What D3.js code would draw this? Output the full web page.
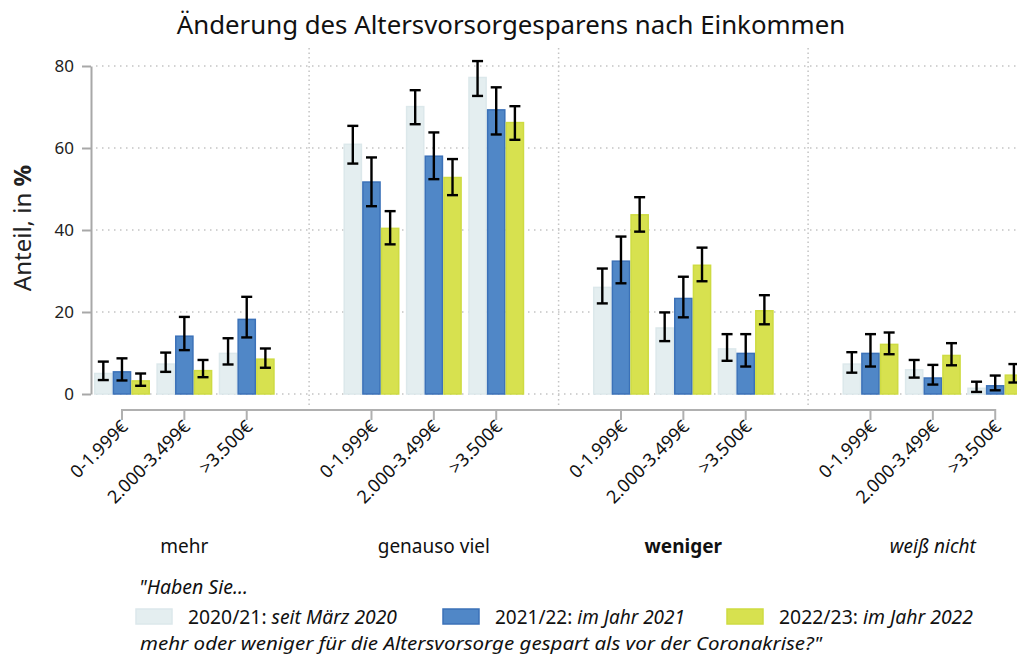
<!DOCTYPE html>
<html>
<head>
  <meta charset="utf-8">
  <title>Änderung des Altersvorsorgesparens nach Einkommen</title>
  <script src="https://d3js.org/d3.v7.min.js"></script>
  <style>
    body { margin: 0; background: #fff; }
    svg { display: block; font-family: "Noto Sans", sans-serif; }
  </style>
</head>
<body>
  <svg id="grafico"></svg>

  <script>
    // Daten
    const antworten = ["mehr", "genauso viel", "weniger", "weiß nicht"];
    const einkommen = ["0-1.999€", "2.000-3.499€", ">3.500€"];
    const wellen = ["2020/21", "2021/22", "2022/23"];
    const legendeJahr = ["2020/21: ", "2021/22: ", "2022/23: "];
    const legendeText = ["seit März 2020", "im Jahr 2021", "im Jahr 2022"];
    const yTicks = [0, 20, 40, 60, 80];

    // Werte je Welle, Reihenfolge: Antwort x Einkommen
    const werte2020 = [5.0, 7.3, 9.9, 60.9, 70.1, 77.2, 26.0, 16.1, 11.0, 7.3, 5.9, 1.4];
    const unten2020 = [3.4, 5.4, 7.2, 56.2, 65.8, 72.7, 22.1, 12.9, 8.1, 5.2, 4.0, 0.5];
    const oben2020  = [7.9, 10.1, 13.6, 65.4, 74.1, 81.2, 30.6, 19.9, 14.6, 10.2, 8.3, 3.0];

    const werte2021 = [5.4, 14.1, 18.2, 51.7, 58.0, 69.3, 32.4, 23.3, 9.9, 9.9, 3.9, 2.0];
    const unten2021 = [3.3, 10.7, 13.8, 45.8, 52.4, 63.3, 27.0, 18.7, 6.7, 6.7, 2.3, 0.9];
    const oben2021  = [8.7, 18.8, 23.7, 57.7, 63.8, 74.8, 38.4, 28.6, 14.6, 14.6, 7.1, 4.5];

    const werte2022 = [3.2, 5.7, 8.5, 40.4, 52.8, 66.2, 43.7, 31.4, 20.3, 12.1, 9.4, 4.6];
    const unten2022 = [2.0, 4.1, 6.4, 36.5, 48.5, 62.0, 39.6, 27.5, 17.0, 9.7, 7.0, 2.8];
    const oben2022  = [5.0, 8.3, 11.1, 44.6, 57.3, 70.2, 48.0, 35.7, 24.1, 15.0, 12.4, 7.3];

    const reihen = [
      { welle: wellen[0], werte: werte2020, unten: unten2020, oben: oben2020 },
      { welle: wellen[1], werte: werte2021, unten: unten2021, oben: oben2021 },
      { welle: wellen[2], werte: werte2022, unten: unten2022, oben: oben2022 }
    ];

    const fuellung = { "2020/21": "#e4eef0", "2021/22": "#5087c7", "2022/23": "#d7e14f" };
    const rand = { "2020/21": "#dce8eb", "2021/22": "#3b71b8", "2022/23": "#cedb42" };

    const balken = [];
    reihen.forEach(r => {
      antworten.forEach((a, i) => {
        einkommen.forEach((e, j) => {
          const k = i * einkommen.length + j;
          balken.push({ antwort: a, einkommen: e, welle: r.welle,
                        wert: r.werte[k], unten: r.unten[k], oben: r.oben[k] });
        });
      });
    });

    const breite = 1017, hoehe = 655;
    const svg = d3.select("#grafico")
      .attr("width", breite)
      .attr("height", hoehe);

    // Skalen
    const x0 = d3.scaleBand().domain(antworten).range([59.6, 59.6 + 4 * 249.5]);
    const x1 = d3.scalePoint().domain(einkommen).range([0, x0.bandwidth()]).padding(1);
    const x2 = d3.scaleBand().domain(wellen).range([-28, 28]);
    const y = d3.scaleLinear().domain([0, 80]).range([394, 66]);

    const mitte = d => x0(d.antwort) + x1(d.einkommen);

    // Gitter
    svg.append("g")
      .selectAll("line")
      .data(yTicks)
      .join("line")
      .attr("x1", 96).attr("x2", breite)
      .attr("y1", d => y(d)).attr("y2", d => y(d))
      .style("stroke", "#c4c4c4")
      .style("stroke-width", 1.5)
      .style("stroke-dasharray", "1.5,4.5");

    svg.append("g")
      .selectAll("line")
      .data(antworten.slice(1))
      .join("line")
      .attr("x1", d => x0(d)).attr("x2", d => x0(d))
      .attr("y1", 48).attr("y2", 406)
      .style("stroke", "#c4c4c4")
      .style("stroke-width", 1.5)
      .style("stroke-dasharray", "1.5,3");

    // Balken
    svg.append("g")
      .selectAll("rect")
      .data(balken)
      .join("rect")
      .attr("x", d => mitte(d) + x2(d.welle) + 0.75)
      .attr("width", x2.bandwidth() - 1.5)
      .attr("y", d => y(d.wert))
      .attr("height", d => y(0) - y(d.wert))
      .style("fill", d => fuellung[d.welle])
      .style("stroke", d => rand[d.welle])
      .style("stroke-width", 1.5);

    // Fehlerbalken
    const fehler = svg.append("g")
      .selectAll("g")
      .data(balken)
      .join("g")
      .attr("transform", d => `translate(${mitte(d) + x2(d.welle) + x2.bandwidth() / 2},0)`)
      .style("stroke", "#000")
      .style("stroke-width", 2.4);

    fehler.append("line")
      .attr("y1", d => y(d.unten)).attr("y2", d => y(d.oben));
    fehler.append("line")
      .attr("x1", -5.5).attr("x2", 5.5)
      .attr("y1", d => y(d.oben)).attr("y2", d => y(d.oben));
    fehler.append("line")
      .attr("x1", -5.5).attr("x2", 5.5)
      .attr("y1", d => y(d.unten)).attr("y2", d => y(d.unten));

    // y-Achse
    const yAchse = svg.append("g")
      .attr("transform", "translate(91,0)")
      .call(d3.axisLeft(y).tickValues(yTicks).tickSize(9).tickPadding(8).tickSizeOuter(0));
    yAchse.select(".domain").style("stroke", "#a8a8a8").style("stroke-width", 2);
    yAchse.selectAll(".tick line").style("stroke", "#a8a8a8").style("stroke-width", 2);
    yAchse.selectAll(".tick text")
      .style("font-family", "Noto Sans")
      .style("font-size", "17px")
      .style("fill", "#222");

    svg.append("text")
      .attr("transform", "translate(31,228) rotate(-90)")
      .attr("text-anchor", "middle")
      .style("font-size", "24px")
      .style("fill", "#222")
      .text("Anteil, in ")
      .append("tspan")
      .style("font-weight", "bold")
      .text("%");

    // x-Achse
    const positionen = [];
    antworten.forEach(a => einkommen.forEach(e => positionen.push({ antwort: a, einkommen: e })));
    const xAchse = svg.append("g").attr("transform", "translate(0,410)");
    xAchse.append("line")
      .attr("x1", mitte(positionen[0]))
      .attr("x2", mitte(positionen[positionen.length - 1]))
      .style("stroke", "#b0b0b0")
      .style("stroke-width", 2);
    xAchse.selectAll(".tick")
      .data(positionen)
      .join("line")
      .attr("class", "tick")
      .attr("x1", mitte).attr("x2", mitte)
      .attr("y1", -1).attr("y2", 10)
      .style("stroke", "#b0b0b0")
      .style("stroke-width", 2);
    xAchse.selectAll(".beschriftung")
      .data(positionen)
      .join("text")
      .attr("class", "beschriftung")
      .attr("transform", d => `translate(${mitte(d) + 7},${18}) rotate(-45)`)
      .attr("text-anchor", "end")
      .style("font-size", "18px")
      .style("fill", "#111")
      .text(d => d.einkommen);

    // Antwortkategorien
    svg.append("g")
      .selectAll("text")
      .data(antworten)
      .join("text")
      .attr("x", d => x0(d) + x0.bandwidth() / 2)
      .attr("y", 553)
      .attr("text-anchor", "middle")
      .style("font-size", "19px")
      .style("fill", "#111")
      .style("font-weight", d => d === "weniger" ? "bold" : "normal")
      .style("font-style", d => d === "weiß nicht" ? "italic" : "normal")
      .text(d => d);

    // Titel
    svg.append("text")
      .attr("x", 511)
      .attr("y", 34)
      .attr("text-anchor", "middle")
      .style("font-size", "25.8px")
      .style("fill", "#111")
      .text("Änderung des Altersvorsorgesparens nach Einkommen");

    // Legende
    svg.append("text")
      .attr("x", 139).attr("y", 594)
      .style("font-size", "19.5px")
      .style("font-style", "italic")
      .style("fill", "#111")
      .text("\"Haben Sie...");

    const legX = [136, 443, 727];
    const legBreite = [209, 190, 194];
    const leg = svg.append("g")
      .selectAll("g")
      .data(wellen)
      .join("g")
      .attr("transform", (d, i) => `translate(${legX[i]},609)`);
    leg.append("rect")
      .attr("width", 36).attr("height", 15)
      .style("fill", d => fuellung[d])
      .style("stroke", d => rand[d])
      .style("stroke-width", 1.5);
    const legText = leg.append("text")
      .attr("x", 52).attr("y", 14.5)
      .attr("textLength", (d, i) => legBreite[i])
      .attr("lengthAdjust", "spacingAndGlyphs")
      .style("font-size", "19px")
      .style("fill", "#111");
    legText.append("tspan").text((d, i) => legendeJahr[i]);
    legText.append("tspan").style("font-style", "italic").text((d, i) => legendeText[i]);

    svg.append("text")
      .attr("x", 140).attr("y", 650)
      .attr("textLength", 682)
      .attr("lengthAdjust", "spacingAndGlyphs")
      .style("font-size", "18.5px")
      .style("font-style", "italic")
      .style("fill", "#111")
      .text("mehr oder weniger für die Altersvorsorge gespart als vor der Coronakrise?\"");
  </script>
</body>
</html>
